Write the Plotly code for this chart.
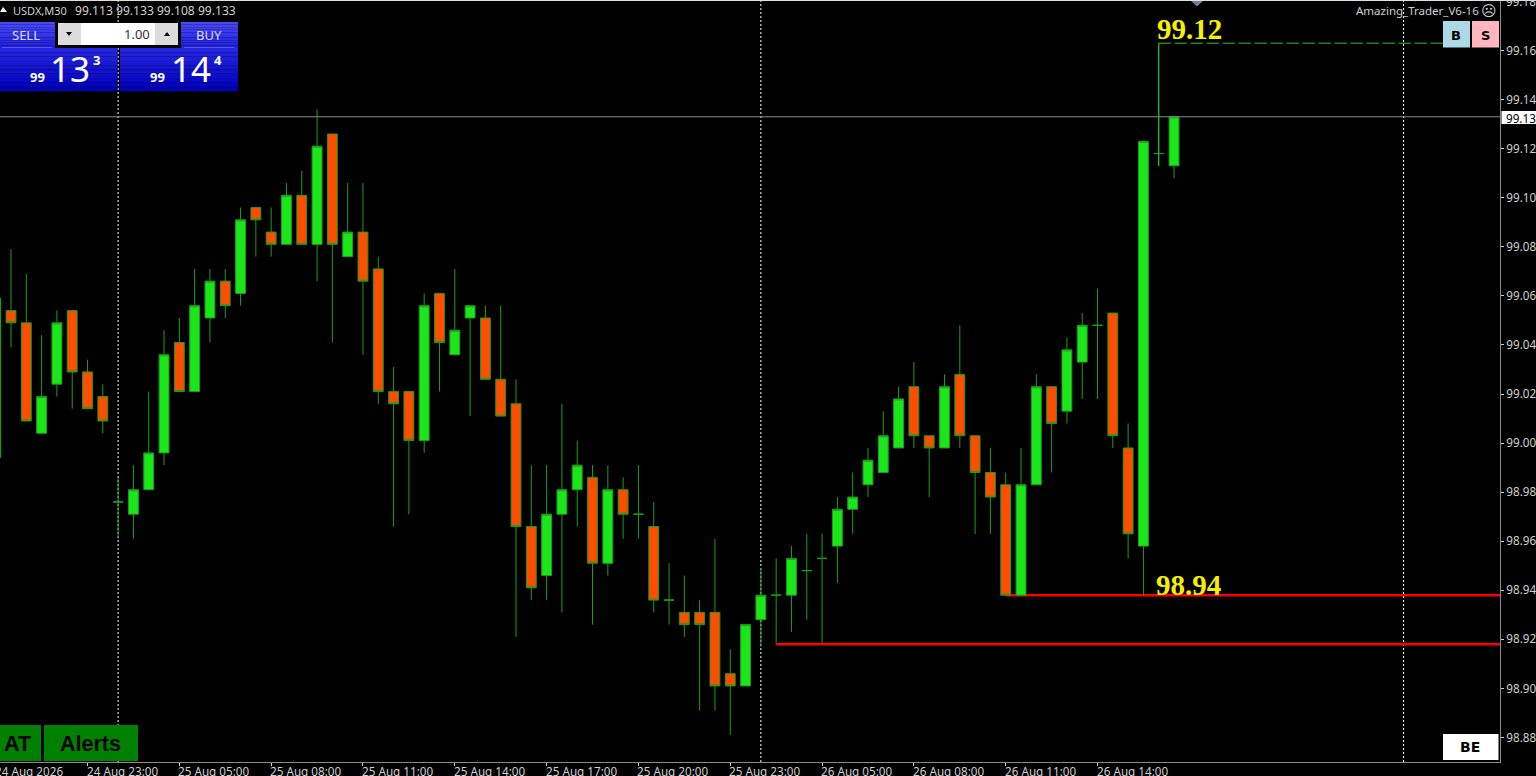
import plotly.graph_objects as go

# ---- data ----
opens = [98.994,99.054,99.049,99.004,99.024,99.054,99.029,99.019,98.976,98.971,
         98.981,98.996,99.041,99.021,99.051,99.066,99.061,99.096,99.086,99.081,
         99.101,99.081,99.126,99.076,99.086,99.071,99.021,99.021,99.001,99.061,
         99.036,99.051,99.051,99.026,99.016,98.966,98.946,98.971,98.981,98.986,
         98.951,98.981,98.971,98.966,98.936,98.931,98.931,98.931,98.906,98.901,
         98.928,98.938,98.938,98.948,98.953,98.958,98.973,98.983,98.988,98.998,
         99.023,99.003,98.998,99.028,99.003,98.988,98.983,98.938,98.983,99.023,
         99.013,99.033,99.048,99.053,98.998,98.958,99.118,99.113]
highs = [99.059,99.079,99.069,99.044,99.054,99.054,99.034,99.024,98.986,98.991,
         99.021,99.046,99.051,99.071,99.071,99.071,99.096,99.096,99.096,99.106,
         99.111,99.136,99.126,99.106,99.106,99.076,99.031,99.021,99.061,99.061,
         99.071,99.056,99.056,99.056,99.026,98.991,98.991,99.016,99.001,98.991,
         98.991,98.986,98.991,98.976,98.951,98.946,98.936,98.961,98.916,98.926,
         98.949,98.953,98.958,98.963,98.963,98.978,98.988,98.998,99.013,99.023,
         99.033,99.003,99.028,99.048,99.003,98.998,98.988,98.998,99.028,99.023,
         99.043,99.053,99.063,99.053,99.008,99.123,99.163,99.133]
lows = [98.994,99.039,99.009,99.004,99.019,99.014,99.014,99.004,98.961,98.961,
        98.981,98.991,99.021,99.021,99.041,99.051,99.056,99.076,99.076,99.081,
        99.081,99.066,99.041,99.076,99.036,99.016,98.966,98.971,98.996,99.021,
        99.036,99.011,99.026,99.011,98.921,98.936,98.936,98.931,98.966,98.926,
        98.946,98.961,98.961,98.931,98.926,98.921,98.891,98.891,98.881,98.901,
        98.917,98.918,98.923,98.928,98.918,98.943,98.963,98.978,98.988,98.998,
        98.998,98.978,98.998,98.998,98.963,98.963,98.938,98.938,98.983,98.988,
        99.008,99.018,99.018,98.998,98.953,98.938,99.113,99.108]
closes = [99.059,99.049,99.009,99.019,99.049,99.029,99.014,99.009,98.976,98.981,
          98.996,99.036,99.021,99.056,99.066,99.056,99.091,99.091,99.081,99.101,
          99.081,99.121,99.081,99.086,99.066,99.021,99.016,99.001,99.056,99.041,
          99.046,99.056,99.026,99.011,98.966,98.941,98.971,98.981,98.991,98.951,
          98.981,98.971,98.971,98.936,98.936,98.926,98.926,98.901,98.901,98.926,
          98.938,98.938,98.953,98.948,98.953,98.973,98.978,98.993,99.003,99.018,
          99.003,98.998,99.023,99.003,98.988,98.978,98.938,98.983,99.023,99.008,
          99.038,99.048,99.048,99.003,98.963,99.123,99.118,99.133]

price_ticks = [99.16,99.14,99.12,99.10,99.08,99.06,99.04,99.02,99.00,
               98.98,98.96,98.94,98.92,98.90,98.88]
top_price_label = "99.18"
time_bars = [6,12,18,24,30,36,42,48,54,60,66,72]
time_labels = ["24 Aug 23:00","25 Aug 05:00","25 Aug 08:00","25 Aug 11:00",
               "25 Aug 14:00","25 Aug 17:00","25 Aug 20:00","25 Aug 23:00",
               "26 Aug 05:00","26 Aug 08:00","26 Aug 11:00","26 Aug 14:00"]
first_time_label = "24 Aug 2026"
separator_bars = [8,50,92]
level_bars = [66,51]
level_prices = [98.938,98.918]
spike_bar = 76
high_label, low_label = "99.12", "98.94"
last_price = 99.133
header_symbol = "USDX,M30"
header_ohlc = "99.113 99.133 99.108 99.133"

# ---- layout constants ----
W, H = 1536, 776
L, R, T, B = 0, 1500, 1, 762
X_RANGE = [0.281, 98.30]
Y_RANGE = [98.87, 99.1802]
UI = "Noto Sans"
TXT = "#CFCFCF"
WICK = "#1B9E1B"

def px(x): return (x - L) / (R - L)
def py(y): return 1 - (y - T) / (B - T)

shapes, annos = [], []

def rect(x0, y0, x1, y1, color, line=None):
    shapes.append(dict(type="rect", xref="paper", yref="paper",
                       x0=px(x0), x1=px(x1), y0=py(y0), y1=py(y1),
                       fillcolor=color, line=dict(width=1 if line else 0, color=line or color),
                       layer="above"))

def grad(x0, y0, x1, y1, c0, c1, n=10):
    for k in range(n):
        t = k / (n - 1)
        c = tuple(round(a + (b - a) * t) for a, b in zip(c0, c1))
        rect(x0, y0 + (y1 - y0) * k / n, x1, y0 + (y1 - y0) * (k + 1) / n, "rgb(%d,%d,%d)" % c)

def hline(x0, x1, y, color, w=1):
    shapes.append(dict(type="line", xref="paper", yref="paper", x0=px(x0), x1=px(x1),
                       y0=py(y), y1=py(y), line=dict(color=color, width=w), layer="above"))

def tri(x0, x1, y0, y1, color):
    xm = (x0 + x1) / 2
    shapes.append(dict(type="path", xref="paper", yref="paper", layer="above",
                       path=f"M{px(x0)},{py(y0)} L{px(x1)},{py(y0)} L{px(xm)},{py(y1)} Z",
                       fillcolor=color, line=dict(width=0)))

def label(x, y, text, size=12, color=TXT, anchor="left", family=UI, bold=False):
    t = f"<b>{text}</b>" if bold else text
    annos.append(dict(xref="paper", yref="paper", x=px(x), y=py(y), text=t, showarrow=False,
                      xanchor=anchor, yanchor="middle", borderpad=0,
                      font=dict(size=size, color=color, family=family)))

# --- chart-layer lines (below candles)
for b in separator_bars:
    shapes.append(dict(type="line", xref="x", yref="paper", x0=b, x1=b, y0=0, y1=1,
                       line=dict(color="#FFFFFF", width=1, dash="2px,2px"), layer="below"))
for b, p in zip(level_bars, level_prices):
    shapes.append(dict(type="line", xref="x", yref="y", x0=b, x1=X_RANGE[1], y0=p, y1=p,
                       line=dict(color="#FF0000", width=2.6), layer="below"))
shapes.append(dict(type="line", xref="x", yref="y", x0=spike_bar, x1=X_RANGE[1] - 3.7,
                   y0=highs[spike_bar], y1=highs[spike_bar],
                   line=dict(color="#33C433", width=1, dash="12px,4px"), layer="below"))
shapes.append(dict(type="line", xref="paper", yref="y", x0=0, x1=1, y0=last_price, y1=last_price,
                   line=dict(color="#8C8C8C", width=1), layer="above"))
hline(0, W, 0.5, "#E0E0E0", 1)

# --- top-left trade panel
shapes.append(dict(type="path", xref="paper", yref="paper", layer="above",
                   path=f"M{px(0)},{py(12)} L{px(7)},{py(12)} L{px(3)},{py(7)} Z",
                   fillcolor="#FFFFFF", line=dict(width=0)))
label(12, 10, header_symbol, 11)
label(74, 10, header_ohlc, 12.1)
grad(0, 22, 55, 48, (72, 72, 250), (32, 32, 225))
grad(181, 22, 238, 48, (72, 72, 250), (32, 32, 225))
hline(2, 52, 48, "#8C8CF5")
hline(184, 234, 48, "#8C8CF5")
rect(56, 22, 180, 47, "#000000")
rect(58, 23, 178, 45, "#FFFFFF")
rect(58, 23, 81, 45, "#DCDCDC")
rect(155, 23, 178, 45, "#DCDCDC")
tri(66, 72, 32, 36, "#000000")
tri(164, 170, 36, 32, "#000000")
grad(0, 48, 117.5, 91, (38, 38, 225), (0, 0, 185))
grad(120, 48, 238, 91, (38, 38, 225), (0, 0, 185))
label(26, 35, "SELL", 13, "#DDDDFF", "center")
label(209, 35, "BUY", 13, "#DDDDFF", "center")
label(151, 34, "1.00", 13, "#333333", "right")
label(37, 77, "99", 13, "#FFFFFF", "center", bold=True)
label(70, 69, "13", 35, "#FFFFFF", "center")
label(96, 60, "3", 13, "#FFFFFF", "center", bold=True)
label(157, 77, "99", 13, "#FFFFFF", "center", bold=True)
label(191, 69, "14", 35, "#FFFFFF", "center")
label(218, 60, "4", 13, "#FFFFFF", "center", bold=True)

# --- top-right indicator items
label(1355, 11, "Amazing_Trader_V6-16", 11.5)
label(1488.5, 11, "\u2639", 15, "#CFCFCF", "center", family="DejaVu Sans")
rect(1443, 21, 1470, 47.5, "#ADD8E6")
rect(1472, 21, 1499, 47.5, "#FFB6C1")
label(1456, 35, "B", 13, "#000000", "center", family="DejaVu Sans", bold=True)
label(1485, 35, "S", 13, "#000000", "center", family="DejaVu Sans", bold=True)
tri(1191, 1203, 1, 6.5, "#708090")
label(1156, 29.5, high_label, 29, "#F6F000", family="Liberation Serif", bold=True)
label(1155, 585, low_label, 29, "#F6F000", family="Liberation Serif", bold=True)

# --- bottom buttons
rect(0, 725, 41, 761, "#008000")
rect(44, 725, 138, 761, "#008000")
label(2.5, 744, "AT", 21.5, "#000000", family="Liberation Sans", bold=True)
label(58.5, 744, "Alerts", 21.5, "#000000", family="Liberation Sans", bold=True)
rect(1443, 734, 1498.5, 760, "#FFFFFF")
label(1470, 747, "BE", 14, "#000000", "center", family="DejaVu Sans", bold=True)

# --- last price flag and cut-off top price
rect(1501.5, 111, W, 124, "#FFFFFF")
label(1505, 117.5, f"{last_price:.2f}", 11.7, "#000000")
label(1505, 1, top_price_label, 11.7)

# --- time labels, left aligned on their ticks
annos.append(dict(xref="paper", yref="paper", x=px(-6), y=py(771), text=first_time_label,
                  showarrow=False, xanchor="left", yanchor="middle", borderpad=0,
                  font=dict(size=11.7, color=TXT, family=UI)))
for b, t in zip(time_bars, time_labels):
    annos.append(dict(xref="x", yref="paper", x=b, y=py(771), text=t, showarrow=False,
                      xanchor="left", yanchor="middle", borderpad=0, xshift=-2,
                      font=dict(size=11.7, color=TXT, family=UI)))

bars = list(range(len(opens)))
fig = go.Figure()
fig.add_trace(go.Candlestick(
    x=bars, open=opens, high=highs, low=lows, close=closes, whiskerwidth=0,
    increasing=dict(line=dict(color=WICK, width=1), fillcolor="#1AE61A"),
    decreasing=dict(line=dict(color=WICK, width=1), fillcolor="#FF4D00"),
    showlegend=False, hoverinfo="skip"))
fig.add_trace(go.Scatter(
    x=[spike_bar, spike_bar], y=[highs[spike_bar], lows[spike_bar]], mode="lines",
    line=dict(color="#22C822", width=1), showlegend=False, hoverinfo="skip"))

fig.update_layout(
    width=W, height=H, paper_bgcolor="#000000", plot_bgcolor="#000000",
    margin=dict(l=0, r=W - R, t=T, b=H - B, pad=0), boxgap=0.08, showlegend=False,
    shapes=shapes, annotations=annos,
    xaxis=dict(range=X_RANGE, rangeslider=dict(visible=False), showgrid=False, zeroline=False,
               tickmode="array", tickvals=time_bars, ticktext=["" for _ in time_bars],
               ticks="outside", ticklen=3, tickcolor="#D0D0D0", tickwidth=1,
               showline=True, linecolor="#8C8C8C", linewidth=1),
    yaxis=dict(range=Y_RANGE, side="right", showgrid=False, zeroline=False,
               tickmode="array", tickvals=price_ticks, ticktext=[f"{v:.2f}" for v in price_ticks],
               ticks="outside", ticklen=3, tickcolor="#D0D0D0", tickwidth=1,
               tickfont=dict(size=11.7, color=TXT, family=UI),
               showline=True, linecolor="#8C8C8C", linewidth=1),
)

fig.write_html("out.html", config={"displayModeBar": False},
               post_script="document.body.style.margin='0';document.body.style.overflow='hidden';")
